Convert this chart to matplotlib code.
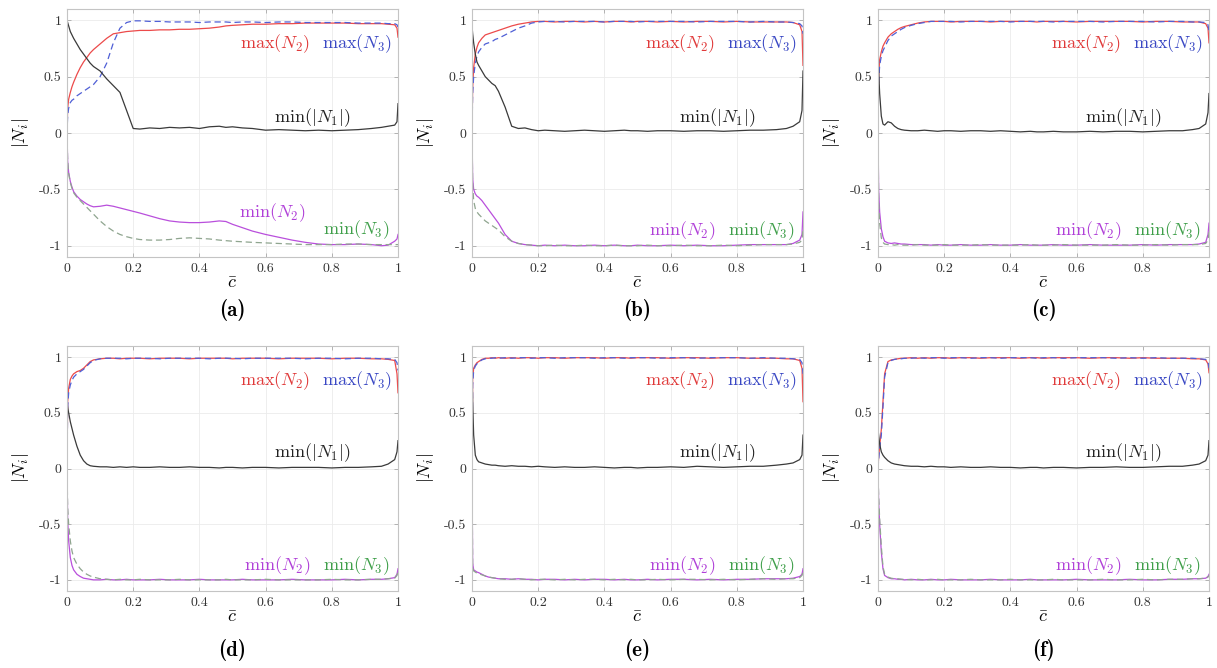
import matplotlib
matplotlib.use('Agg')
import matplotlib.pyplot as plt

plt.rcParams['mathtext.fontset'] = 'cm'
plt.rcParams['font.family'] = 'cmr10'
plt.rcParams['axes.unicode_minus'] = False
plt.rcParams['axes.formatter.use_mathtext'] = True

# normalised coordinate along the path
c_bar = [0, 0.002, 0.005, 0.01, 0.015, 0.02, 0.03, 0.04, 0.05, 0.06, 0.07, 0.08,
         0.1, 0.12, 0.14, 0.16, 0.18, 0.2, 0.22, 0.25, 0.28, 0.31, 0.34, 0.37, 0.4,
         0.43, 0.46, 0.48, 0.5, 0.53, 0.56, 0.6, 0.64, 0.68, 0.72, 0.76, 0.8,
         0.84, 0.88, 0.92, 0.95, 0.97, 0.99, 0.997, 1.0]

# (a)
a_max2 = [0.0, 0.22, 0.3, 0.36, 0.41, 0.45, 0.52, 0.58, 0.63, 0.67, 0.71, 0.74, 0.79, 0.84, 0.88, 0.89, 0.9, 0.905, 0.91, 0.91, 0.915, 0.915, 0.92, 0.92, 0.925, 0.93, 0.94, 0.95, 0.955, 0.96, 0.965, 0.965, 0.97, 0.97, 0.975, 0.975, 0.975, 0.975, 0.97, 0.97, 0.97, 0.965, 0.96, 0.93, 0.85]
a_max3 = [0.0, 0.15, 0.22, 0.27, 0.29, 0.3, 0.33, 0.35, 0.37, 0.39, 0.41, 0.43, 0.5, 0.62, 0.8, 0.93, 0.98, 0.995, 0.995, 0.99, 0.99, 0.985, 0.985, 0.985, 0.98, 0.985, 0.985, 0.985, 0.98, 0.985, 0.985, 0.98, 0.985, 0.985, 0.98, 0.98, 0.98, 0.98, 0.975, 0.975, 0.975, 0.97, 0.97, 0.96, 0.94]
a_min1 = [1.0, 0.98, 0.95, 0.9, 0.87, 0.84, 0.79, 0.74, 0.7, 0.66, 0.62, 0.59, 0.55, 0.48, 0.42, 0.36, 0.2, 0.04, 0.035, 0.045, 0.04, 0.05, 0.045, 0.05, 0.04, 0.055, 0.06, 0.05, 0.055, 0.045, 0.04, 0.025, 0.03, 0.025, 0.02, 0.025, 0.02, 0.025, 0.03, 0.04, 0.05, 0.06, 0.07, 0.1, 0.26]
a_min2 = [0.0, -0.25, -0.35, -0.43, -0.48, -0.52, -0.56, -0.59, -0.61, -0.63, -0.645, -0.655, -0.65, -0.64, -0.65, -0.665, -0.68, -0.695, -0.71, -0.735, -0.76, -0.78, -0.79, -0.795, -0.795, -0.79, -0.78, -0.785, -0.81, -0.84, -0.87, -0.9, -0.925, -0.95, -0.97, -0.985, -0.99, -0.99, -0.985, -0.99, -1.0, -0.995, -0.96, -0.94, -0.9]
a_min3 = [0.0, -0.25, -0.36, -0.44, -0.49, -0.53, -0.57, -0.6, -0.63, -0.66, -0.69, -0.72, -0.78, -0.83, -0.87, -0.9, -0.92, -0.935, -0.945, -0.95, -0.95, -0.945, -0.935, -0.93, -0.935, -0.94, -0.95, -0.955, -0.96, -0.965, -0.97, -0.975, -0.98, -0.985, -0.99, -0.99, -0.99, -0.985, -0.985, -0.99, -0.99, -0.99, -0.99, -0.99, -0.99]

# (b)
b_max2 = [0.0, 0.4, 0.58, 0.7, 0.76, 0.8, 0.84, 0.87, 0.88, 0.89, 0.9, 0.91, 0.93, 0.95, 0.965, 0.975, 0.985, 0.99, 0.99, 0.985, 0.99, 0.99, 0.985, 0.99, 0.985, 0.99, 0.99, 0.985, 0.99, 0.99, 0.985, 0.99, 0.985, 0.99, 0.99, 0.985, 0.99, 0.985, 0.985, 0.985, 0.985, 0.98, 0.96, 0.9, 0.6]
b_max3 = [0.0, 0.35, 0.5, 0.62, 0.68, 0.72, 0.76, 0.79, 0.8, 0.81, 0.83, 0.84, 0.87, 0.9, 0.93, 0.95, 0.975, 0.985, 0.99, 0.99, 0.985, 0.99, 0.99, 0.99, 0.985, 0.99, 0.99, 0.99, 0.985, 0.99, 0.99, 0.99, 0.99, 0.985, 0.99, 0.99, 0.99, 0.985, 0.99, 0.985, 0.985, 0.98, 0.97, 0.95, 0.88]
b_min1 = [0.95, 0.88, 0.8, 0.7, 0.63, 0.6, 0.55, 0.5, 0.47, 0.44, 0.42, 0.37, 0.23, 0.06, 0.04, 0.045, 0.03, 0.02, 0.025, 0.02, 0.015, 0.02, 0.025, 0.02, 0.015, 0.02, 0.025, 0.02, 0.02, 0.015, 0.02, 0.02, 0.015, 0.02, 0.02, 0.015, 0.02, 0.025, 0.025, 0.03, 0.04, 0.06, 0.1, 0.2, 0.55]
b_min2 = [0.0, -0.4, -0.5, -0.54, -0.56, -0.57, -0.6, -0.64, -0.68, -0.72, -0.76, -0.8, -0.9, -0.96, -0.98, -0.99, -0.995, -1.0, -0.995, -1.0, -0.995, -1.0, -1.0, -0.995, -1.0, -0.995, -1.0, -1.0, -0.995, -1.0, -1.0, -0.995, -1.0, -0.995, -1.0, -1.0, -0.995, -0.99, -0.99, -0.99, -0.99, -0.98, -0.95, -0.9, -0.7]
b_min3 = [0.0, -0.45, -0.6, -0.67, -0.7, -0.72, -0.75, -0.78, -0.8, -0.82, -0.84, -0.86, -0.92, -0.96, -0.98, -0.99, -0.995, -1.0, -1.0, -0.995, -1.0, -1.0, -0.995, -1.0, -1.0, -0.995, -1.0, -1.0, -1.0, -0.995, -1.0, -1.0, -0.995, -1.0, -1.0, -0.995, -1.0, -0.995, -0.99, -0.99, -0.99, -0.985, -0.97, -0.95, -0.85]

# (c)
c_max2 = [0.0, 0.5, 0.65, 0.72, 0.77, 0.8, 0.85, 0.88, 0.9, 0.92, 0.935, 0.945, 0.96, 0.975, 0.985, 0.99, 0.99, 0.99, 0.985, 0.99, 0.99, 0.99, 0.985, 0.99, 0.99, 0.99, 0.99, 0.985, 0.99, 0.99, 0.99, 0.985, 0.99, 0.99, 0.99, 0.99, 0.985, 0.99, 0.99, 0.985, 0.985, 0.985, 0.97, 0.93, 0.8]
c_max3 = [0.0, 0.45, 0.6, 0.68, 0.73, 0.76, 0.82, 0.86, 0.88, 0.9, 0.92, 0.935, 0.955, 0.97, 0.98, 0.99, 0.99, 0.99, 0.99, 0.985, 0.99, 0.99, 0.99, 0.99, 0.985, 0.99, 0.99, 0.99, 0.99, 0.985, 0.99, 0.99, 0.99, 0.985, 0.99, 0.99, 0.99, 0.985, 0.99, 0.99, 0.985, 0.985, 0.98, 0.96, 0.9]
c_min1 = [0.65, 0.55, 0.35, 0.15, 0.08, 0.07, 0.1, 0.09, 0.06, 0.04, 0.03, 0.025, 0.02, 0.02, 0.025, 0.02, 0.015, 0.02, 0.02, 0.015, 0.02, 0.02, 0.015, 0.02, 0.015, 0.01, 0.015, 0.01, 0.01, 0.015, 0.01, 0.01, 0.015, 0.01, 0.015, 0.015, 0.01, 0.015, 0.02, 0.02, 0.03, 0.04, 0.08, 0.18, 0.35]
c_min2 = [0.0, -0.5, -0.7, -0.85, -0.92, -0.96, -0.975, -0.98, -0.975, -0.98, -0.985, -0.985, -0.99, -0.99, -0.99, -0.995, -0.99, -0.995, -0.995, -0.99, -0.995, -0.995, -0.99, -0.995, -0.995, -0.99, -0.995, -0.995, -0.995, -0.99, -0.995, -0.995, -0.99, -0.995, -0.995, -0.995, -0.99, -0.995, -0.99, -0.99, -0.99, -0.985, -0.97, -0.9, -0.8]
c_min3 = [0.0, -0.6, -0.8, -0.93, -0.97, -0.985, -0.99, -0.99, -0.995, -0.99, -0.995, -0.995, -0.995, -0.99, -0.995, -0.995, -0.995, -0.99, -0.995, -0.995, -0.995, -0.99, -0.995, -0.995, -0.995, -0.995, -0.99, -0.995, -0.995, -0.995, -0.99, -0.995, -0.995, -0.995, -0.99, -0.995, -0.995, -0.99, -0.995, -0.99, -0.99, -0.99, -0.98, -0.95, -0.88]

# (d)
d_max2 = [0.0, 0.6, 0.72, 0.8, 0.83, 0.85, 0.87, 0.88, 0.9, 0.93, 0.96, 0.975, 0.985, 0.99, 0.99, 0.985, 0.99, 0.99, 0.99, 0.985, 0.99, 0.99, 0.99, 0.985, 0.99, 0.99, 0.99, 0.99, 0.985, 0.99, 0.99, 0.99, 0.985, 0.99, 0.99, 0.99, 0.985, 0.99, 0.99, 0.985, 0.985, 0.98, 0.97, 0.85, 0.68]
d_max3 = [0.0, 0.55, 0.68, 0.75, 0.79, 0.82, 0.85, 0.87, 0.89, 0.92, 0.95, 0.97, 0.985, 0.99, 0.99, 0.99, 0.985, 0.99, 0.99, 0.99, 0.985, 0.99, 0.99, 0.99, 0.99, 0.985, 0.99, 0.99, 0.99, 0.985, 0.99, 0.99, 0.99, 0.99, 0.985, 0.99, 0.99, 0.985, 0.99, 0.99, 0.985, 0.985, 0.98, 0.95, 0.88]
d_min1 = [0.6, 0.55, 0.5, 0.42, 0.36, 0.3, 0.2, 0.12, 0.07, 0.04, 0.025, 0.02, 0.015, 0.015, 0.01, 0.015, 0.01, 0.015, 0.01, 0.01, 0.015, 0.01, 0.01, 0.015, 0.01, 0.01, 0.005, 0.01, 0.01, 0.005, 0.01, 0.01, 0.005, 0.01, 0.01, 0.01, 0.005, 0.01, 0.01, 0.015, 0.02, 0.04, 0.08, 0.15, 0.25]
d_min2 = [0.0, -0.45, -0.65, -0.8, -0.87, -0.91, -0.95, -0.97, -0.985, -0.99, -0.995, -1.0, -1.0, -0.995, -1.0, -1.0, -0.995, -1.0, -1.0, -1.0, -0.995, -1.0, -1.0, -1.0, -0.995, -1.0, -1.0, -1.0, -1.0, -0.995, -1.0, -1.0, -1.0, -0.995, -1.0, -1.0, -1.0, -0.995, -1.0, -0.995, -0.995, -0.99, -0.98, -0.95, -0.9]
d_min3 = [0.0, -0.35, -0.5, -0.65, -0.74, -0.8, -0.86, -0.9, -0.93, -0.95, -0.965, -0.975, -0.99, -0.995, -1.0, -0.995, -1.0, -1.0, -0.995, -1.0, -1.0, -1.0, -0.995, -1.0, -1.0, -1.0, -1.0, -0.995, -1.0, -1.0, -1.0, -0.995, -1.0, -1.0, -1.0, -1.0, -0.995, -1.0, -1.0, -0.995, -0.995, -0.99, -0.985, -0.96, -0.92]

# (e)
e_max2 = [0.0, 0.8, 0.9, 0.93, 0.95, 0.96, 0.98, 0.99, 0.99, 0.995, 0.99, 0.995, 0.99, 0.995, 0.99, 0.995, 0.995, 0.99, 0.995, 0.995, 0.99, 0.995, 0.995, 0.995, 0.99, 0.995, 0.995, 0.99, 0.995, 0.995, 0.995, 0.99, 0.995, 0.995, 0.99, 0.995, 0.995, 0.99, 0.99, 0.99, 0.985, 0.985, 0.97, 0.9, 0.6]
e_max3 = [0.0, 0.75, 0.88, 0.92, 0.94, 0.955, 0.975, 0.985, 0.99, 0.99, 0.995, 0.99, 0.995, 0.99, 0.995, 0.995, 0.99, 0.995, 0.995, 0.99, 0.995, 0.995, 0.995, 0.99, 0.995, 0.995, 0.99, 0.995, 0.995, 0.995, 0.99, 0.995, 0.995, 0.99, 0.995, 0.995, 0.995, 0.99, 0.995, 0.99, 0.99, 0.985, 0.98, 0.95, 0.85]
e_min1 = [0.9, 0.6, 0.3, 0.12, 0.08, 0.06, 0.05, 0.04, 0.035, 0.03, 0.03, 0.025, 0.02, 0.025, 0.02, 0.02, 0.015, 0.02, 0.015, 0.01, 0.015, 0.01, 0.01, 0.015, 0.01, 0.005, 0.01, 0.01, 0.005, 0.01, 0.01, 0.015, 0.01, 0.02, 0.015, 0.01, 0.015, 0.02, 0.02, 0.03, 0.04, 0.05, 0.08, 0.12, 0.3]
e_min2 = [0.0, -0.85, -0.91, -0.92, -0.93, -0.935, -0.95, -0.965, -0.975, -0.98, -0.985, -0.99, -0.99, -0.995, -0.99, -0.995, -0.995, -1.0, -0.995, -0.995, -1.0, -0.995, -1.0, -0.995, -0.995, -1.0, -0.995, -1.0, -1.0, -0.995, -1.0, -0.995, -0.995, -1.0, -0.995, -1.0, -0.995, -0.995, -0.99, -0.99, -0.99, -0.985, -0.97, -0.95, -0.9]
e_min3 = [0.0, -0.88, -0.92, -0.93, -0.94, -0.945, -0.955, -0.965, -0.975, -0.98, -0.985, -0.99, -0.995, -0.995, -0.99, -0.995, -1.0, -0.995, -0.995, -1.0, -0.995, -1.0, -0.995, -0.995, -1.0, -0.995, -1.0, -0.995, -1.0, -1.0, -0.995, -1.0, -0.995, -0.995, -1.0, -0.995, -1.0, -0.995, -0.99, -0.995, -0.99, -0.99, -0.98, -0.96, -0.92]

# (f)
f_max2 = [0.0, 0.1, 0.2, 0.35, 0.6, 0.85, 0.96, 0.975, 0.98, 0.985, 0.99, 0.99, 0.995, 0.99, 0.995, 0.99, 0.995, 0.995, 0.99, 0.995, 0.995, 0.99, 0.995, 0.995, 0.995, 0.99, 0.995, 0.995, 0.99, 0.995, 0.995, 0.995, 0.99, 0.995, 0.995, 0.99, 0.995, 0.99, 0.99, 0.99, 0.985, 0.985, 0.975, 0.94, 0.86]
f_max3 = [0.0, 0.08, 0.18, 0.3, 0.55, 0.82, 0.95, 0.97, 0.98, 0.985, 0.985, 0.99, 0.99, 0.995, 0.99, 0.995, 0.995, 0.99, 0.995, 0.995, 0.99, 0.995, 0.995, 0.99, 0.995, 0.995, 0.995, 0.99, 0.995, 0.995, 0.99, 0.995, 0.995, 0.995, 0.99, 0.995, 0.99, 0.995, 0.99, 0.99, 0.99, 0.985, 0.98, 0.96, 0.9]
f_min1 = [0.35, 0.3, 0.22, 0.15, 0.12, 0.1, 0.07, 0.05, 0.04, 0.035, 0.03, 0.025, 0.02, 0.02, 0.015, 0.02, 0.015, 0.015, 0.01, 0.015, 0.01, 0.01, 0.015, 0.01, 0.01, 0.005, 0.01, 0.01, 0.005, 0.01, 0.01, 0.005, 0.01, 0.01, 0.015, 0.01, 0.01, 0.015, 0.02, 0.02, 0.03, 0.04, 0.07, 0.12, 0.25]
f_min2 = [0.0, -0.3, -0.5, -0.75, -0.9, -0.96, -0.98, -0.99, -0.99, -0.995, -0.995, -1.0, -0.995, -1.0, -1.0, -0.995, -1.0, -1.0, -0.995, -1.0, -1.0, -1.0, -0.995, -1.0, -1.0, -1.0, -0.995, -1.0, -1.0, -1.0, -1.0, -0.995, -1.0, -1.0, -1.0, -0.995, -1.0, -1.0, -0.995, -0.995, -0.99, -0.99, -0.985, -0.97, -0.95]
f_min3 = [0.0, -0.25, -0.45, -0.7, -0.88, -0.95, -0.975, -0.985, -0.99, -0.99, -0.995, -0.995, -1.0, -0.995, -1.0, -1.0, -0.995, -1.0, -1.0, -1.0, -0.995, -1.0, -1.0, -1.0, -0.995, -1.0, -1.0, -1.0, -1.0, -0.995, -1.0, -1.0, -1.0, -0.995, -1.0, -1.0, -0.995, -1.0, -0.995, -0.995, -0.99, -0.99, -0.985, -0.975, -0.96]

panel_tags = ['(a)', '(b)', '(c)', '(d)', '(e)', '(f)']
panel_data = [
    (a_max2, a_max3, a_min1, a_min2, a_min3),
    (b_max2, b_max3, b_min1, b_min2, b_min3),
    (c_max2, c_max3, c_min1, c_min2, c_min3),
    (d_max2, d_max3, d_min1, d_min2, d_min3),
    (e_max2, e_max3, e_min1, e_min2, e_min3),
    (f_max2, f_max3, f_min1, f_min2, f_min3),
]
x_ticks = [0, 0.2, 0.4, 0.6, 0.8, 1]
x_tick_labels = ['0', '0.2', '0.4', '0.6', '0.8', '1']
y_ticks = [-1, -0.5, 0, 0.5, 1]
y_tick_labels = ['-1', '-0.5', '0', '0.5', '1']

col_red = '#ec4a4a'
col_blue = '#4f5fd6'
col_black = '#3a3a3a'
col_mag = '#b94fdc'
col_green = '#8fa58f'

W, H = 1217, 668
lefts = [67, 472, 878]
rows = [(257, 248), (591, 245)]   # (bottom px, height px)
tag_y = [310, 650]

fig = plt.figure(figsize=(W / 100, H / 100), dpi=100)

for k, (tag, series) in enumerate(zip(panel_tags, panel_data)):
    r, c = divmod(k, 3)
    bot, hgt = rows[r]
    ax = fig.add_axes([lefts[c] / W, 1 - bot / H, 331 / W, hgt / H])
    max2, max3, min1, min2, min3 = series

    ax.plot(c_bar, max2, color=col_red, lw=0.9)
    ax.plot(c_bar, max3, color=col_blue, lw=0.9, ls=(0, (5, 3)))
    ax.plot(c_bar, min1, color=col_black, lw=0.9)
    ax.plot(c_bar, min2, color=col_mag, lw=0.9)
    ax.plot(c_bar, min3, color=col_green, lw=0.9, ls=(0, (5, 3)))

    ax.set_xlim(0, 1)
    ax.set_ylim(-1.1, 1.1)
    ax.set_xticks(x_ticks)
    ax.set_xticklabels(x_tick_labels)
    ax.set_yticks(y_ticks)
    ax.set_yticklabels(y_tick_labels)
    ax.tick_params(direction='in', length=3, width=0.6, color='#a8a8a8',
                   labelsize=10, labelcolor='#333333', pad=4, top=True, right=True)
    ax.grid(True, color='#ebebeb', lw=0.6)
    for sp in ax.spines.values():
        sp.set_color('#c4c4c4')
        sp.set_linewidth(0.8)

    ax.set_xlabel(r'$\bar{c}$', fontsize=13, labelpad=1)
    ax.set_ylabel(r'$|N_i|$', fontsize=13, labelpad=6)

    fs = 13
    ax.text(0.735, 0.79, r'$\max(N_2)$', color='#e03a3a', fontsize=fs, ha='right', va='center')
    ax.text(0.98, 0.79, r'$\max(N_3)$', color='#3a48c4', fontsize=fs, ha='right', va='center')
    ax.text(0.855, 0.14, r'$\min(|N_1|)$', color='#222222', fontsize=fs, ha='right', va='center')
    if k == 0:
        ax.text(0.72, -0.71, r'$\min(N_2)$', color='#b040d8', fontsize=fs, ha='right', va='center')
        ax.text(0.975, -0.86, r'$\min(N_3)$', color='#3f9f4a', fontsize=fs, ha='right', va='center')
    else:
        ax.text(0.735, -0.87, r'$\min(N_2)$', color='#b040d8', fontsize=fs, ha='right', va='center')
        ax.text(0.975, -0.87, r'$\min(N_3)$', color='#3f9f4a', fontsize=fs, ha='right', va='center')

    fig.text((lefts[c] + 165.5) / W, 1 - tag_y[r] / H, tag, family='cmb10',
             fontsize=15, ha='center', va='center')

fig.savefig('out.png', dpi=100)
